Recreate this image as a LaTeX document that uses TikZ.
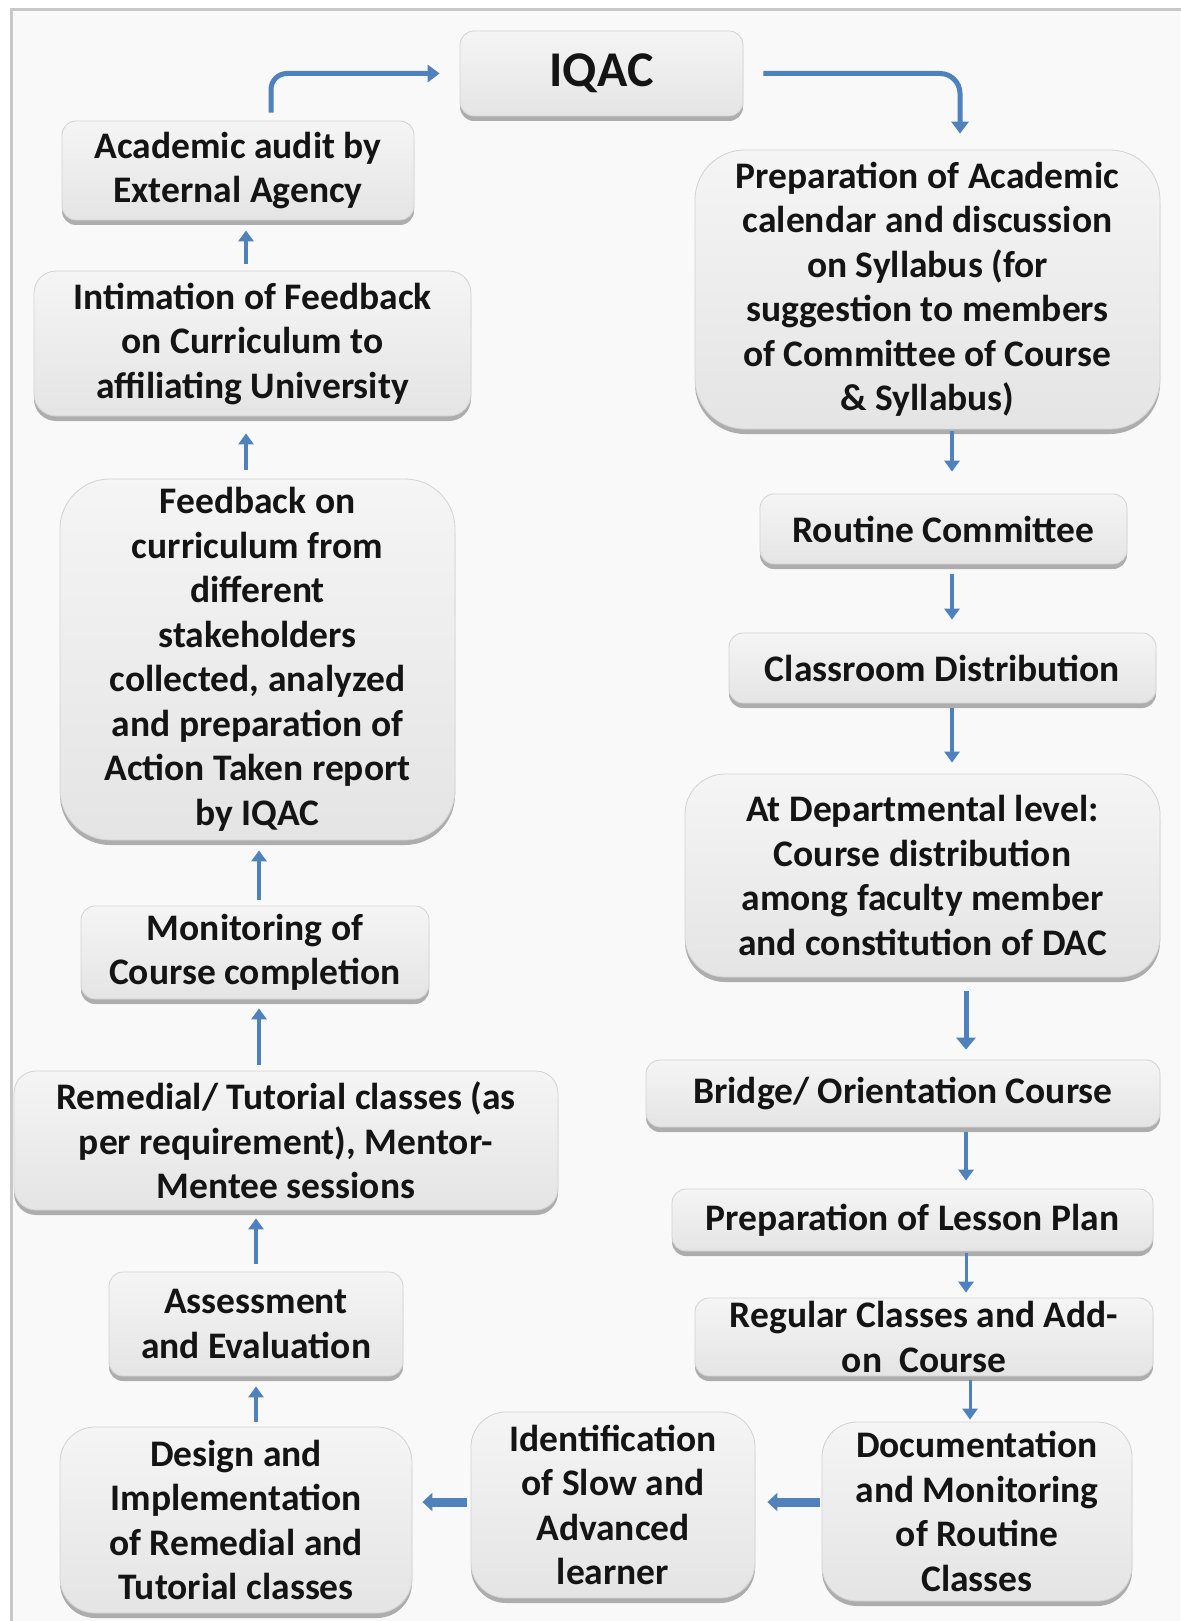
\documentclass[tikz,border=0pt]{standalone}
\usepackage{fontspec}
\setmainfont{Carlito}
\usetikzlibrary{arrows.meta,shadows,calc}
\definecolor{arrblue}{HTML}{4F81BD}
\definecolor{framegray}{HTML}{C8C8C8}
\definecolor{bgcol}{HTML}{F9F9F9}
\definecolor{txt}{HTML}{141414}
\tikzset{
 box/.style={draw=gray!35, line width=0.8pt, top color=gray!8, bottom color=gray!21,
   rounded corners=14pt, align=center, inner sep=0pt, text=txt,
   font=\fontsize{37.5}{44.5}\selectfont\bfseries,
   drop shadow={shadow xshift=0pt, shadow yshift=-5pt, fill=black, opacity=0.3}},
 arr/.style={draw=arrblue, line width=3.5pt, -{Triangle[width=15pt,length=11pt]}},
 fatarr/.style={draw=arrblue, line width=9pt, -{Triangle[width=18pt,length=10pt]}},
}
\begin{document}
\begin{tikzpicture}[x=1pt,y=-1pt]
\useasboundingbox (0,0) rectangle (1180,1621);
\fill[white] (0,0) rectangle (1180,1621);
\fill[bgcol] (11,10) rectangle (1180,1621);
\draw[framegray, line width=3pt] (11,1625) -- (11,10) -- (1185,10);

% coordinates for arrow lines
\coordinate (xl) at (271,0);
\coordinate (xr) at (960,0);
\coordinate (xa) at (246,0);
\coordinate (xb) at (259,0);
\coordinate (xc) at (256,0);
\coordinate (xd) at (952,0);
\coordinate (xe) at (966,0);
\coordinate (xf) at (970,0);
\coordinate (yb) at (0,1502);

% IQAC
\node[box, minimum width=283pt, minimum height=85pt, font=\fontsize{50}{56}\selectfont\bfseries] (iqac) at (601.5,73.5) {IQAC};

% left column
\node[box, minimum width=352pt, minimum height=99pt] (audit) at (238,170.5) {Academic audit by\\External Agency};
\node[box, minimum width=437pt, minimum height=145pt, rounded corners=22pt] (intim) at (252.5,343.5) {Intimation of Feedback\\on Curriculum to\\affiliating University};
\node[box, minimum width=395pt, minimum height=361pt, rounded corners=50pt] (feed) at (257.5,659.5) {Feedback on\\curriculum from\\different\\stakeholders\\collected, analyzed\\and preparation of\\Action Taken report\\by IQAC};
\node[box, minimum width=348pt, minimum height=93pt] (monit) at (255,952.5) {Monitoring of\\Course completion};
\node[box, minimum width=544pt, minimum height=139pt, rounded corners=22pt] (remed) at (286,1140.5) {Remedial/ Tutorial classes (as\\per requirement), Mentor-\\Mentee sessions};
\node[box, minimum width=294pt, minimum height=104pt] (assess) at (256,1324) {Assessment\\and Evaluation};
\node[box, minimum width=352pt, minimum height=186pt, rounded corners=35pt] (design) at (236,1520) {Design and\\Implementation\\of Remedial and\\Tutorial classes};

% bottom middle
\node[box, minimum width=284pt, minimum height=186pt, rounded corners=35pt] (ident) at (613,1505) {Identification\\of Slow and\\Advanced\\learner};
\node[box, minimum width=310pt, minimum height=179pt, rounded corners=35pt] (docu) at (977,1511.5) {Documentation\\and Monitoring\\of Routine\\Classes};

% right column
\node[box, minimum width=465pt, minimum height=279pt, rounded corners=50pt] (prep) at (927.5,289.5) {Preparation of Academic\\calendar and discussion\\on Syllabus (for\\suggestion to members\\of Committee of Course\\\& Syllabus)};
\node[box, minimum width=367pt, minimum height=70pt] (routine) at (943.5,529) {Routine Committee};
\node[box, minimum width=427pt, minimum height=70pt] (class) at (942.5,668) {Classroom Distribution};
\node[box, minimum width=475pt, minimum height=203pt, rounded corners=40pt] (dept) at (922.5,875.5) {At Departmental level:\\Course distribution\\among faculty member\\and constitution of DAC};
\node[box, minimum width=514pt, minimum height=67pt] (bridge) at (903,1093.5) {Bridge/ Orientation Course};
\node[box, minimum width=481pt, minimum height=62pt] (lesson) at (912.5,1220) {Preparation of Lesson Plan};
\node[box, minimum width=458pt, minimum height=78pt] (regular) at (924,1337) {Regular Classes and Add-\\on\ \ Course};

% IQAC connectors
\draw[arr, line width=5pt, -{Triangle[width=17pt,length=12pt]}, rounded corners=16pt, shorten <=8pt, shorten >=20pt] (audit.north -| xl) |- (iqac.west);
\draw[arr, line width=5pt, -{Triangle[width=17pt,length=12pt]}, rounded corners=20pt, shorten <=20pt, shorten >=16pt] (iqac.east) -| (prep.north -| xr);

% left column arrows (upwards)
\draw[arr, shorten <=7pt, shorten >=10pt] (intim.north -| xa) -- (audit.south -| xa);
\draw[arr, shorten <=9pt, shorten >=17pt] (feed.north -| xa) -- (intim.south -| xa);
\draw[arr, shorten <=6pt, shorten >=10pt] (monit.north -| xb) -- (feed.south -| xb);
\draw[arr, shorten <=6pt, shorten >=9pt] (remed.north -| xb) -- (monit.south -| xb);
\draw[arr, shorten <=8pt, shorten >=8pt] (assess.north -| xc) -- (remed.south -| xc);
\draw[arr, shorten <=5pt, shorten >=10pt] (design.north -| xc) -- (assess.south -| xc);

% right column arrows (downwards)
\draw[arr, shorten <=2pt, shorten >=22pt] (prep.south -| xd) -- (routine.north -| xd);
\draw[arr, shorten <=10pt, shorten >=13pt] (routine.south -| xd) -- (class.north -| xd);
\draw[arr, shorten <=5pt, shorten >=11pt] (class.south -| xd) -- (dept.north -| xd);
\draw[arr, line width=5pt, -{Triangle[width=19pt,length=12pt]}, shorten <=14pt, shorten >=10pt] (dept.south -| xe) -- (bridge.north -| xe);
\draw[arr, shorten <=5pt, shorten >=8pt] (bridge.south -| xe) -- (lesson.north -| xe);
\draw[arr, line width=3pt, shorten <=2pt, shorten >=5pt] (lesson.south -| xe) -- (regular.north -| xe);
\draw[arr, line width=3pt, shorten <=4pt, shorten >=2pt] (regular.south -| xf) -- (docu.north -| xf);

% bottom horizontal arrows (leftwards)
\draw[fatarr, shorten <=2pt, shorten >=12pt] (docu.west |- yb) -- (ident.east |- yb);
\draw[fatarr, shorten <=4pt, shorten >=10pt] (ident.west |- yb) -- (design.east |- yb);
\end{tikzpicture}
\end{document}
